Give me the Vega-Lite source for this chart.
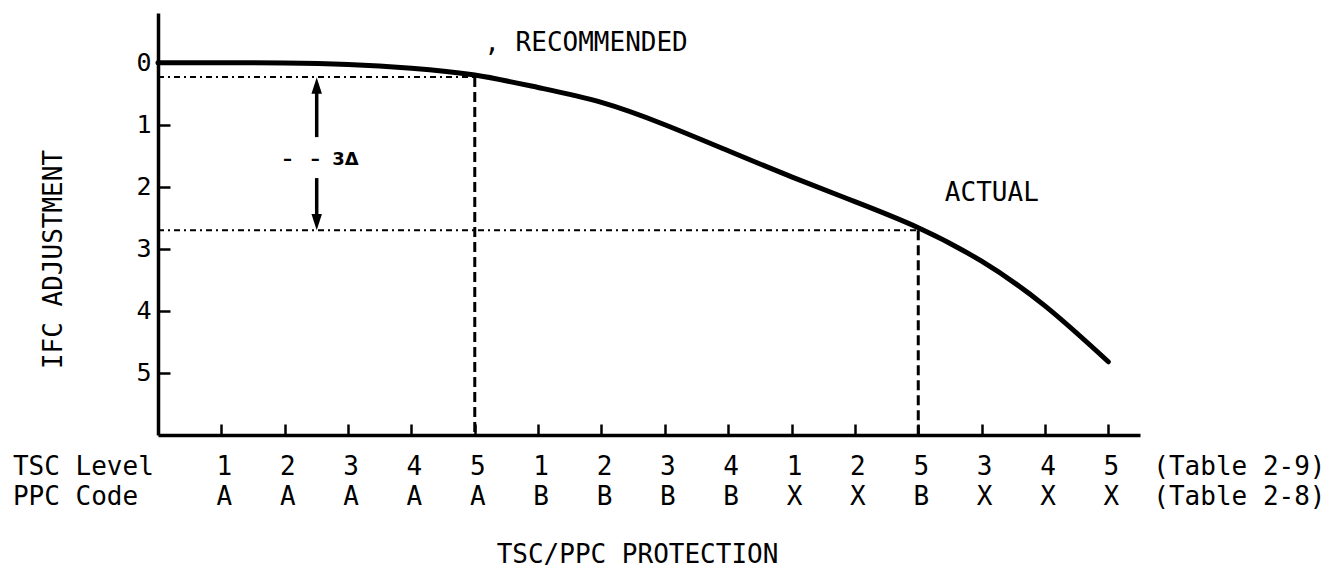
{
  "$schema": "https://vega.github.io/schema/vega-lite/v6.json",
  "width": 982,
  "height": 422,
  "autosize": {"type": "none"},
  "padding": {"left": 158, "top": 13, "right": 187, "bottom": 136},
  "background": "white",
  "config": {
    "view": {"stroke": null},
    "font": "DejaVu Sans Mono",
    "text": {"font": "DejaVu Sans Mono", "fontSize": 26, "color": "black", "baseline": "middle"}
  },
  "datasets": {
    "curve": [
      {"idx": 0, "adj": 0},
      {"idx": 1, "adj": 0},
      {"idx": 2, "adj": 0.005},
      {"idx": 3, "adj": 0.03},
      {"idx": 4, "adj": 0.09},
      {"idx": 5, "adj": 0.2},
      {"idx": 6, "adj": 0.4},
      {"idx": 7, "adj": 0.64},
      {"idx": 8, "adj": 1.0},
      {"idx": 9, "adj": 1.42},
      {"idx": 10, "adj": 1.84},
      {"idx": 11, "adj": 2.24},
      {"idx": 12, "adj": 2.66},
      {"idx": 13, "adj": 3.2},
      {"idx": 14, "adj": 3.92},
      {"idx": 15, "adj": 4.82}
    ],
    "ticks": [
      {"idx": 1, "tsc": "1", "ppc": "A"},
      {"idx": 2, "tsc": "2", "ppc": "A"},
      {"idx": 3, "tsc": "3", "ppc": "A"},
      {"idx": 4, "tsc": "4", "ppc": "A"},
      {"idx": 5, "tsc": "5", "ppc": "A"},
      {"idx": 6, "tsc": "1", "ppc": "B"},
      {"idx": 7, "tsc": "2", "ppc": "B"},
      {"idx": 8, "tsc": "3", "ppc": "B"},
      {"idx": 9, "tsc": "4", "ppc": "B"},
      {"idx": 10, "tsc": "1", "ppc": "X"},
      {"idx": 11, "tsc": "2", "ppc": "X"},
      {"idx": 12, "tsc": "5", "ppc": "B"},
      {"idx": 13, "tsc": "3", "ppc": "X"},
      {"idx": 14, "tsc": "4", "ppc": "X"},
      {"idx": 15, "tsc": "5", "ppc": "X"}
    ],
    "rowTitles": [
      {"idx": -2.29, "tsc": "TSC Level", "ppc": "PPC Code"},
      {"idx": 15.71, "tsc": "(Table 2-9)", "ppc": "(Table 2-8)"}
    ],
    "guides": [
      {"line": "horizontal", "x": 0, "x2": 5, "y": 0.23, "y2": 0.23},
      {"line": "horizontal", "x": 0, "x2": 12, "y": 2.7, "y2": 2.7},
      {"line": "vertical", "x": 5, "x2": 5, "y": 0.23, "y2": 6},
      {"line": "vertical", "x": 12, "x2": 12, "y": 2.7, "y2": 6},
      {"line": "arrow", "x": 2.505, "x2": 2.505, "y": 0.37, "y2": 1.2},
      {"line": "arrow", "x": 2.505, "x2": 2.505, "y": 1.86, "y2": 2.57}
    ],
    "heads": [
      {"dir": "up", "x": 2.505, "y": 0.37},
      {"dir": "down", "x": 2.505, "y": 2.57}
    ],
    "notes": [
      {"x": 5.15, "y": -0.32, "note": ", RECOMMENDED"},
      {"x": 12.42, "y": 2.1, "note": "ACTUAL"}
    ],
    "delta": [
      {"x": 2.57, "y": 1.57, "note": "–\u00a0\u00a0\u00a0–\u00a0\u00a03Δ"}
    ]
  },
  "layer": [
    {
      "data": {"name": "guides"},
      "transform": [{"filter": "datum.line === 'horizontal'"}],
      "mark": {"type": "rule", "color": "black", "strokeWidth": 2, "strokeDash": [6, 4, 2, 4]},
      "encoding": {
        "x": {"field": "x", "type": "quantitative", "scale": {"domain": [0, 15.5], "nice": false, "zero": false},
          "axis": {
            "values": [1, 2, 3, 4, 5, 6, 7, 8, 9, 10, 11, 12, 13, 14, 15],
            "labels": false, "grid": false,
            "tickSize": -11, "tickWidth": 2.5, "tickColor": "black",
            "domainColor": "black", "domainWidth": 3.5,
            "title": "TSC/PPC PROTECTION",
            "titleFont": "DejaVu Sans Mono", "titleFontSize": 26, "titleFontWeight": "normal", "titleColor": "black",
            "titleX": 479, "titleY": 119, "titleBaseline": "middle", "titleAlign": "center"
          }},
        "x2": {"field": "x2"},
        "y": {"field": "y", "type": "quantitative", "scale": {"domain": [-0.8, 6], "reverse": true, "nice": false, "zero": false},
          "axis": {
            "values": [0, 1, 2, 3, 4, 5],
            "format": "d",
            "grid": false,
            "tickSize": -12, "tickWidth": 2.5, "tickColor": "black",
            "domainColor": "black", "domainWidth": 3.5,
            "labelPadding": 19, "labelFont": "DejaVu Sans Mono", "labelFontSize": 25, "labelColor": "black",
            "labelBaseline": "middle", "labelAlign": "right",
            "title": "IFC ADJUSTMENT",
            "titleFont": "DejaVu Sans Mono", "titleFontSize": 26, "titleFontWeight": "normal", "titleColor": "black",
            "titleX": -105, "titleY": 246, "titleAngle": 270, "titleBaseline": "middle", "titleAlign": "center"
          }},
        "y2": {"field": "y2"}
      }
    },
    {
      "data": {"name": "guides"},
      "transform": [{"filter": "datum.line === 'vertical'"}],
      "mark": {"type": "rule", "color": "black", "strokeWidth": 3, "strokeDash": [10, 5]},
      "encoding": {
        "x": {"field": "x", "type": "quantitative"},
        "y": {"field": "y", "type": "quantitative"},
        "y2": {"field": "y2"}
      }
    },
    {
      "data": {"name": "guides"},
      "transform": [{"filter": "datum.line === 'arrow'"}],
      "mark": {"type": "rule", "color": "black", "strokeWidth": 3.5},
      "encoding": {
        "x": {"field": "x", "type": "quantitative"},
        "y": {"field": "y", "type": "quantitative"},
        "y2": {"field": "y2"}
      }
    },
    {
      "data": {"name": "heads"},
      "mark": {"type": "point", "filled": true, "color": "black", "opacity": 1, "size": 260, "strokeWidth": 0},
      "encoding": {
        "x": {"field": "x", "type": "quantitative"},
        "y": {"field": "y", "type": "quantitative"},
        "shape": {"field": "dir", "type": "nominal", "scale": {"domain": ["up", "down"], "range": ["M0,-1L0.65,1L-0.65,1Z", "M0,1L0.65,-1L-0.65,-1Z"]}, "legend": null}
      }
    },
    {
      "data": {"name": "curve"},
      "mark": {"type": "line", "color": "black", "strokeWidth": 5, "interpolate": "natural", "strokeCap": "round"},
      "encoding": {
        "x": {"field": "idx", "type": "quantitative"},
        "y": {"field": "adj", "type": "quantitative"}
      }
    },
    {
      "data": {"name": "ticks"},
      "mark": {"type": "text", "align": "center", "dx": 3},
      "encoding": {
        "x": {"field": "idx", "type": "quantitative"},
        "y": {"datum": 6.52},
        "text": {"field": "tsc"}
      }
    },
    {
      "data": {"name": "ticks"},
      "mark": {"type": "text", "align": "center", "dx": 3},
      "encoding": {
        "x": {"field": "idx", "type": "quantitative"},
        "y": {"datum": 7.0},
        "text": {"field": "ppc"}
      }
    },
    {
      "data": {"name": "rowTitles"},
      "mark": {"type": "text", "align": "left"},
      "encoding": {
        "x": {"field": "idx", "type": "quantitative"},
        "y": {"datum": 6.52},
        "text": {"field": "tsc"}
      }
    },
    {
      "data": {"name": "rowTitles"},
      "mark": {"type": "text", "align": "left"},
      "encoding": {
        "x": {"field": "idx", "type": "quantitative"},
        "y": {"datum": 7.0},
        "text": {"field": "ppc"}
      }
    },
    {
      "data": {"name": "notes"},
      "mark": {"type": "text", "align": "left"},
      "encoding": {
        "x": {"field": "x", "type": "quantitative"},
        "y": {"field": "y", "type": "quantitative"},
        "text": {"field": "note"}
      }
    },
    {
      "data": {"name": "delta"},
      "mark": {"type": "text", "align": "center", "font": "DejaVu Sans", "fontWeight": "bold", "fontSize": 18},
      "encoding": {
        "x": {"field": "x", "type": "quantitative"},
        "y": {"field": "y", "type": "quantitative"},
        "text": {"field": "note"}
      }
    }
  ]
}
